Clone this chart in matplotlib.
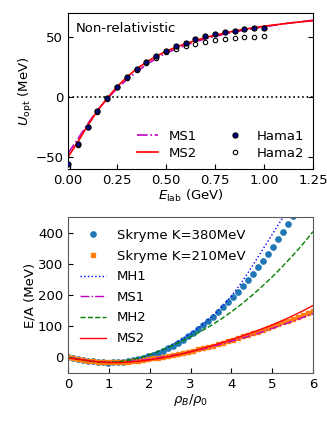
import numpy as np
import matplotlib
matplotlib.use('Agg')
import matplotlib.pyplot as plt

# ---- top panel: optical potential vs E_lab ----
e_hama = [0.0, 0.05, 0.10, 0.15, 0.20, 0.25, 0.30, 0.35, 0.40, 0.45, 0.50,
          0.55, 0.60, 0.65, 0.70, 0.75, 0.80, 0.85, 0.90, 0.95, 1.00]
u_hama1 = [-56, -39, -24.6, -11.9, -0.8, 8.3, 16.3, 23.2, 29, 34.3, 38.4,
           42.3, 45.3, 48, 50.5, 52.5, 53.9, 55.2, 56.4, 57.2, 57.7]
u_hama2 = [-58, -40, -25, -12.5, -1.5, 8, 16, 22.5, 28.5, 32.9, 37.3,
           40.3, 42.5, 44.5, 46.1, 47.8, 48.6, 49.4, 50, 50.3, 50.8]

e_curve = [0.0, 0.05, 0.10, 0.15, 0.20, 0.25, 0.30, 0.35, 0.40, 0.45, 0.50, 0.55, 0.60,
           0.65, 0.70, 0.75, 0.80, 0.85, 0.90, 0.95, 1.00, 1.05, 1.10, 1.15, 1.20, 1.25]
u_ms1 = [-47, -35, -22.5, -11, -1.5, 7, 14.5, 21, 27, 32, 36.5, 40, 43,
         46, 48.5, 50.5, 52.5, 54.2, 55.8, 57.2, 58.5, 59.8, 61, 62, 63, 64]
u_ms2 = [-50, -37.5, -24, -11.5, -1, 8.5, 16.5, 23.5, 29, 34, 38, 41.5, 44.5,
         47, 49.5, 51.5, 53.3, 55, 56.5, 57.8, 59, 60, 61, 62, 62.8, 63.5]

# ---- bottom panel: E/A vs rho_B/rho_0 ----
rho_sk = np.linspace(0, 6, 50)
ea_k380 = [0, -2, -5, -8, -11, -13, -15, -16, -16.5, -16, -15.5, -14, -12, -9, -5.5, -1.5,
           3, 9, 15, 22, 30, 38, 47, 57, 67, 79, 90, 103, 116, 130, 145, 160, 176, 193,
           211, 229, 248, 268, 289, 310, 332, 355, 378, 402, 427, 452]
ea_k210 = [0, -2.5, -5, -7.5, -10, -12, -13.5, -15, -15.8, -16, -15.8, -15, -13.8, -12.2,
           -10.5, -8.3, -6, -3.5, -0.8, 2, 5, 8, 11.5, 15, 18.5, 22, 26, 30, 34, 38, 42.5,
           47, 52, 57, 62, 67, 72, 77.5, 83, 88.5, 94, 100, 106, 112, 118, 124, 130,
           136.5, 143, 150]

rho_curve = [0, 0.25, 0.5, 0.75, 1.0, 1.25, 1.5, 1.75, 2.0, 2.25, 2.5, 2.75, 3.0,
             3.25, 3.5, 3.75, 4.0, 4.25, 4.5, 4.75, 5.0, 5.25, 5.5, 5.75, 6.0]
ea_mh1 = [0, -5.5, -11, -14.5, -16, -15, -11, -4, 8, 21, 37, 56, 76,
          100, 128, 160, 196, 240, 290, 342, 394, 446, 500, 555, 610]
ea_ms1 = [0, -5, -10.5, -14, -16, -15.5, -13.5, -10, -5.5, -0.5, 5, 11, 18,
          25.5, 33.5, 42.5, 52, 61, 71, 81.5, 93, 104, 116, 128, 140]
ea_mh2 = [0, -6, -11.5, -15, -16, -13.5, -8.5, -1, 9, 21, 35, 50, 66,
          83, 102, 123, 146, 171, 198, 227, 258, 291, 326, 363, 403]
ea_ms2 = [-2, -6, -10.5, -14.5, -16.5, -16.5, -15, -12, -8, -3, 3, 10, 18,
          27, 36.5, 46.5, 57, 68, 79.5, 91.5, 104, 118, 133, 149, 166]

fs = 9.5
plt.rcParams['font.size'] = fs
plt.rcParams['mathtext.fontset'] = 'dejavusans'

fig = plt.figure(figsize=(3.27, 4.25), dpi=100)
W, H = 327, 425
ax1 = fig.add_axes([68 / W, 1 - 169 / H, 245 / W, 156 / H])
ax2 = fig.add_axes([68 / W, 1 - 373 / H, 245 / W, 156 / H])

# top
ax1.axhline(0, color='k', ls=':', lw=1.2)
ax1.plot(e_curve, u_ms1, color='m', ls='-.', lw=1.2, label='MS1')
ax1.plot(e_curve, u_ms2, color='r', ls='-', lw=1.2, label='MS2')
ax1.plot(e_hama, u_hama1, 'o', ms=3.7, mfc='navy', mec='k', mew=0.8, ls='none',
         label='Hama1', zorder=4)
ax1.plot(e_hama, u_hama2, 'o', ms=3.2, mfc='white', mec='k', mew=0.8, ls='none',
         label='Hama2', zorder=3)
ax1.set_xlim(0, 1.25)
ax1.set_ylim(-60, 70)
ax1.set_xticks([0, 0.25, 0.5, 0.75, 1.0, 1.25])
ax1.set_xticklabels(['0.00', '0.25', '0.50', '0.75', '1.00', '1.25'])
ax1.set_yticks([-50, 0, 50])
ax1.tick_params(direction='in', right=True, labelsize=fs)
ax1.set_xlabel(r'$E_{\rm lab}$ (GeV)', fontsize=fs, labelpad=1)
ax1.set_ylabel(r'$U_{\rm opt}$ (MeV)', fontsize=fs, labelpad=0)
ax1.text(0.03, 0.9, 'Non-relativistic', transform=ax1.transAxes,
         fontsize=fs, va='center', ha='left')
ax1.legend(loc='lower right', ncol=2, frameon=False, fontsize=fs,
           handlelength=1.6, columnspacing=2.1, labelspacing=0.3,
           borderaxespad=0.3)

# bottom
ax2.plot(rho_sk[:len(ea_k380)], ea_k380, 'o', color='tab:blue', ms=3.8, ls='none',
         label='Skryme K=380MeV')
ax2.plot(rho_sk, ea_k210, 's', color='tab:orange', ms=2.3, ls='none',
         label='Skryme K=210MeV')
ax2.plot(rho_curve, ea_mh1, color='b', ls=':', lw=1.0, label='MH1')
ax2.plot(rho_curve, ea_ms1, color='m', ls='-.', lw=1.0, label='MS1')
ax2.plot(rho_curve, ea_mh2, color='g', ls='--', lw=1.0, label='MH2')
ax2.plot(rho_curve, ea_ms2, color='r', ls='-', lw=1.0, label='MS2')
ax2.set_xlim(0, 6)
ax2.set_ylim(-50, 450)
ax2.set_xticks(range(7))
ax2.set_yticks([0, 100, 200, 300, 400])
ax2.tick_params(direction='in', labelsize=fs)
for s in ax2.spines.values():
    s.set_color('0.35')
ax2.set_xlabel(r'$\rho_B/\rho_0$', fontsize=fs, labelpad=1)
ax2.set_ylabel('E/A (MeV)', fontsize=fs, labelpad=1)
ax2.legend(loc='upper left', frameon=False, fontsize=fs, labelspacing=0.58)

fig.savefig('out.png', dpi=100)
